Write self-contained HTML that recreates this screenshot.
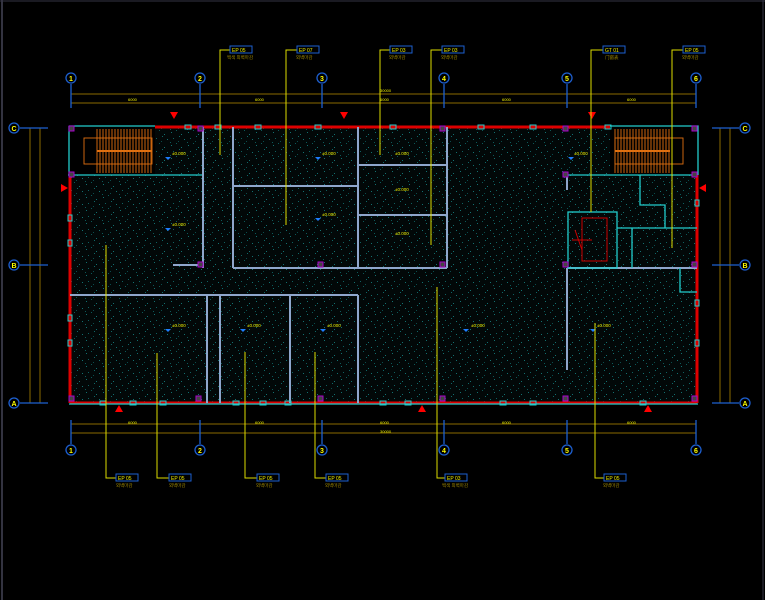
<!DOCTYPE html>
<html><head><meta charset="utf-8"><style>
html,body{margin:0;padding:0;background:#000;}
svg{display:block;}
text{font-family:"Liberation Sans","Noto Sans CJK KR",sans-serif;}
</style></head><body>
<svg width="765" height="600" viewBox="0 0 765 600" xmlns="http://www.w3.org/2000/svg">
<defs>
<pattern id="sp" width="17" height="13" patternUnits="userSpaceOnUse">
<rect width="17" height="13" fill="#020808"/>
<rect x="1" y="2" width="1" height="1" fill="#137070"/><rect x="6" y="0" width="1" height="1" fill="#0d5858"/>
<rect x="11" y="4" width="1" height="1" fill="#137070"/><rect x="3" y="8" width="1" height="1" fill="#0f6060"/>
<rect x="14" y="9" width="1" height="1" fill="#137070"/><rect x="8" y="11" width="1" height="1" fill="#0b4c4c"/>
<rect x="9" y="6" width="1" height="1" fill="#106666"/><rect x="0" y="12" width="1" height="1" fill="#0d5858"/>
</pattern>
</defs>
<rect width="765" height="600" fill="#000"/>
<line x1="2" y1="0" x2="2" y2="600" stroke="#445" stroke-width="1.5"/>
<line x1="0" y1="1" x2="765" y2="1" stroke="#334" stroke-width="1"/>
<line x1="763" y1="0" x2="763" y2="600" stroke="#334"/>

<path d="M70 175 H155 V127 H610 V175 H697 V403 H70 Z" fill="url(#sp)"/>

<g stroke="#8a6a00" stroke-width="1" fill="none">
<line x1="71" y1="94" x2="696" y2="94"/><line x1="71" y1="103" x2="696" y2="103"/>
<line x1="71" y1="424" x2="696" y2="424"/><line x1="71" y1="433" x2="696" y2="433"/>
<line x1="30" y1="128" x2="30" y2="403"/><line x1="40" y1="128" x2="40" y2="403"/>
<line x1="720" y1="128" x2="720" y2="403"/><line x1="730" y1="128" x2="730" y2="403"/>
</g>
<g fill="#ee0" font-size="4">
<text x="128" y="101">6000</text><text x="255" y="101">6000</text><text x="380" y="92">30000</text><text x="380" y="101">6000</text><text x="502" y="101">6000</text><text x="627" y="101">6000</text>
<text x="128" y="424">6000</text><text x="255" y="424">6000</text><text x="380" y="433">30000</text><text x="380" y="424">6000</text><text x="502" y="424">6000</text><text x="627" y="424">6000</text>
</g>
<g stroke="#1d5fd0" stroke-width="1.3" fill="#000">
<line x1="71" y1="84" x2="71" y2="108"/><line x1="200" y1="84" x2="200" y2="108"/><line x1="322" y1="84" x2="322" y2="108"/><line x1="444" y1="84" x2="444" y2="108"/><line x1="567" y1="84" x2="567" y2="108"/><line x1="696" y1="84" x2="696" y2="108"/>
<line x1="71" y1="420" x2="71" y2="444"/><line x1="200" y1="420" x2="200" y2="444"/><line x1="322" y1="420" x2="322" y2="444"/><line x1="444" y1="420" x2="444" y2="444"/><line x1="567" y1="420" x2="567" y2="444"/><line x1="696" y1="420" x2="696" y2="444"/>
<line x1="20" y1="128" x2="48" y2="128"/><line x1="20" y1="265" x2="48" y2="265"/><line x1="20" y1="403" x2="48" y2="403"/>
<line x1="712" y1="128" x2="739" y2="128"/><line x1="712" y1="265" x2="739" y2="265"/><line x1="712" y1="403" x2="739" y2="403"/>
<circle cx="71" cy="78" r="5"/><circle cx="200" cy="78" r="5"/><circle cx="322" cy="78" r="5"/><circle cx="444" cy="78" r="5"/><circle cx="567" cy="78" r="5"/><circle cx="696" cy="78" r="5"/>
<circle cx="71" cy="450" r="5"/><circle cx="200" cy="450" r="5"/><circle cx="322" cy="450" r="5"/><circle cx="444" cy="450" r="5"/><circle cx="567" cy="450" r="5"/><circle cx="696" cy="450" r="5"/>
<circle cx="14" cy="128" r="5"/><circle cx="14" cy="265" r="5"/><circle cx="14" cy="403" r="5"/>
<circle cx="745" cy="128" r="5"/><circle cx="745" cy="265" r="5"/><circle cx="745" cy="403" r="5"/>
</g>
<g fill="#ff0" font-size="7" font-weight="bold" text-anchor="middle">
<text x="71" y="81">1</text><text x="200" y="81">2</text><text x="322" y="81">3</text><text x="444" y="81">4</text><text x="567" y="81">5</text><text x="696" y="81">6</text>
<text x="71" y="453">1</text><text x="200" y="453">2</text><text x="322" y="453">3</text><text x="444" y="453">4</text><text x="567" y="453">5</text><text x="696" y="453">6</text>
<text x="14" y="131">C</text><text x="14" y="268">B</text><text x="14" y="406">A</text>
<text x="745" y="131">C</text><text x="745" y="268">B</text><text x="745" y="406">A</text>
</g>

<g fill="none">
<path d="M155 127 H610" stroke="#d00" stroke-width="3"/>
<path d="M70 403 H697" stroke="#d00" stroke-width="3"/>
<path d="M70 175 V403" stroke="#d00" stroke-width="3"/>
<path d="M697 175 V403" stroke="#d00" stroke-width="3"/>
<path d="M69 126 H155 M69 126 V175 M610 126 H698 V175 M69 404 H698" stroke="#2cc" stroke-width="1.3"/>
<path d="M68 175 H202 M567 175 H697" stroke="#2cc" stroke-width="1.3"/>
</g>
<g stroke="#e07010" stroke-width="0.9" fill="none">
<rect x="84" y="138" width="68" height="26"/>
<path d="M97 129 V173 M100 129 V173 M103 129 V173 M106 129 V173 M109 129 V173 M112 129 V173 M115 129 V173 M118 129 V173 M121 129 V173 M124 129 V173 M127 129 V173 M130 129 V173 M133 129 V173 M136 129 V173 M139 129 V173 M142 129 V173 M145 129 V173 M148 129 V173 M151 129 V173"/>
<line x1="97" y1="151" x2="152" y2="151" stroke-width="2"/>
<rect x="615" y="138" width="68" height="26"/>
<path d="M615 129 V173 M618 129 V173 M621 129 V173 M624 129 V173 M627 129 V173 M630 129 V173 M633 129 V173 M636 129 V173 M639 129 V173 M642 129 V173 M645 129 V173 M648 129 V173 M651 129 V173 M654 129 V173 M657 129 V173 M660 129 V173 M663 129 V173 M666 129 V173 M669 129 V173"/>
<line x1="615" y1="151" x2="670" y2="151" stroke-width="2"/>
</g>
<g stroke="#8fa6cc" stroke-width="2" fill="none">
<path d="M203 127 V268 M173 265 H203"/>
<path d="M233 127 V268 M233 186 H358 M233 268 H358 M358 127 V268 M358 165 H447 M358 215 H447 M358 268 H447 M447 127 V268"/>
<path d="M70 295 H358 M207 295 V403 M220 295 V403 M290 295 V403 M358 295 V403"/>
<path d="M567 268 V370 M567 268 H697"/>
<path d="M567 175 V190"/>
</g>
<g stroke="#2cc" stroke-width="1.3" fill="none">
<rect x="568" y="212" width="49" height="56"/>
<path d="M617 228 H697 M640 175 V205 H665 V228 M632 228 V268 M680 268 V292 H697"/>
</g>
<g stroke="#c00" stroke-width="1" fill="none">
<rect x="582" y="218" width="25" height="43"/>
<path d="M572 240 H592 M575 230 L582 250"/>
</g>
<g fill="#444" stroke="#a0c" stroke-width="1">
<rect x="69" y="126" width="5" height="5"/><rect x="69" y="172" width="5" height="5"/><rect x="198" y="126" width="5" height="5"/><rect x="198" y="262" width="5" height="5"/>
<rect x="318" y="262" width="5" height="5"/><rect x="440" y="126" width="5" height="5"/><rect x="440" y="262" width="5" height="5"/>
<rect x="563" y="126" width="5" height="5"/><rect x="563" y="172" width="5" height="5"/><rect x="563" y="262" width="5" height="5"/>
<rect x="692" y="126" width="5" height="5"/><rect x="692" y="172" width="5" height="5"/><rect x="692" y="262" width="5" height="5"/>
<rect x="69" y="396" width="5" height="5"/><rect x="196" y="396" width="5" height="5"/><rect x="318" y="396" width="5" height="5"/><rect x="440" y="396" width="5" height="5"/><rect x="563" y="396" width="5" height="5"/><rect x="692" y="396" width="5" height="5"/>
</g>
<g fill="none" stroke="#2cc" stroke-width="1">
<rect x="185" y="125" width="6" height="4"/><rect x="215" y="125" width="6" height="4"/><rect x="255" y="125" width="6" height="4"/><rect x="315" y="125" width="6" height="4"/><rect x="390" y="125" width="6" height="4"/><rect x="478" y="125" width="6" height="4"/><rect x="530" y="125" width="6" height="4"/><rect x="605" y="125" width="6" height="4"/>
<rect x="100" y="401" width="6" height="4"/><rect x="130" y="401" width="6" height="4"/><rect x="160" y="401" width="6" height="4"/><rect x="233" y="401" width="6" height="4"/><rect x="260" y="401" width="6" height="4"/><rect x="285" y="401" width="6" height="4"/><rect x="380" y="401" width="6" height="4"/><rect x="405" y="401" width="6" height="4"/><rect x="500" y="401" width="6" height="4"/><rect x="530" y="401" width="6" height="4"/><rect x="640" y="401" width="6" height="4"/>
<rect x="68" y="215" width="4" height="6"/><rect x="68" y="240" width="4" height="6"/><rect x="68" y="315" width="4" height="6"/><rect x="68" y="340" width="4" height="6"/>
<rect x="695" y="200" width="4" height="6"/><rect x="695" y="300" width="4" height="6"/><rect x="695" y="340" width="4" height="6"/>
</g>
<g fill="#f00">
<path d="M170 112 L178 112 L174 119 Z"/><path d="M340 112 L348 112 L344 119 Z"/><path d="M588 112 L596 112 L592 119 Z"/>
<path d="M115 412 L123 412 L119 405 Z"/><path d="M418 412 L426 412 L422 405 Z"/><path d="M644 412 L652 412 L648 405 Z"/>
<path d="M61 184 L61 192 L68 188 Z"/><path d="M706 184 L706 192 L699 188 Z"/>
</g>
<g font-size="4.5" fill="#ee0">
<text x="172" y="155">±0.000</text><text x="322" y="155">±0.000</text><text x="395" y="155">±0.000</text><text x="574" y="155">±0.000</text>
<text x="172" y="226">±0.000</text><text x="322" y="216">±0.000</text><text x="395" y="191">±0.000</text><text x="395" y="235">±0.000</text>
<text x="172" y="327">±0.000</text><text x="247" y="327">±0.000</text><text x="327" y="327">±0.000</text><text x="471" y="327">±0.000</text><text x="597" y="327">±0.000</text>
</g>
<g fill="#1e7fff">
<path d="M165 157 h6 l-3 3z"/><path d="M315 157 h6 l-3 3z"/><path d="M568 157 h6 l-3 3z"/><path d="M165 228 h6 l-3 3z"/><path d="M315 218 h6 l-3 3z"/><path d="M165 329 h6 l-3 3z"/><path d="M240 329 h6 l-3 3z"/><path d="M320 329 h6 l-3 3z"/><path d="M463 329 h6 l-3 3z"/><path d="M590 329 h6 l-3 3z"/>
</g>
<g stroke="#dd0" stroke-width="1" fill="none">
<path d="M230 50 H220 V155"/><path d="M297 50 H286 V225"/><path d="M390 50 H380 V155"/><path d="M442 50 H431 V245"/><path d="M603 50 H591 V212"/><path d="M683 50 H672 V248"/>
<path d="M116 478 H106 V245"/><path d="M169 478 H157 V353"/><path d="M257 478 H245 V352"/><path d="M326 478 H315 V352"/><path d="M445 478 H437 V287"/><path d="M604 478 H595 V323"/>
</g>
<g stroke="#1d5fd0" stroke-width="1" fill="none">
<rect x="230" y="46" width="22" height="7"/><rect x="297" y="46" width="22" height="7"/><rect x="390" y="46" width="22" height="7"/><rect x="442" y="46" width="22" height="7"/><rect x="603" y="46" width="22" height="7"/><rect x="683" y="46" width="22" height="7"/>
<rect x="116" y="474" width="22" height="7"/><rect x="169" y="474" width="22" height="7"/><rect x="257" y="474" width="22" height="7"/><rect x="326" y="474" width="22" height="7"/><rect x="445" y="474" width="22" height="7"/><rect x="604" y="474" width="22" height="7"/>
</g>
<g font-size="5" fill="#ee0">
<text x="232" y="52">EP 05</text><text x="299" y="52">EP 07</text><text x="392" y="52">EP 03</text><text x="444" y="52">EP 03</text><text x="605" y="52">GT 01</text><text x="685" y="52">EP 05</text>
<text x="118" y="480">EP 05</text><text x="171" y="480">EP 05</text><text x="259" y="480">EP 05</text><text x="328" y="480">EP 05</text><text x="447" y="480">EP 03</text><text x="606" y="480">EP 05</text>
</g>
<g font-size="4.5" fill="#a08a00">
<text x="227" y="59">백색 외벽마감</text><text x="296" y="59">외벽마감</text><text x="389" y="59">외벽마감</text><text x="441" y="59">외벽마감</text><text x="605" y="59">门窗表</text><text x="682" y="59">외벽마감</text>
<text x="116" y="487">외벽마감</text><text x="169" y="487">외벽마감</text><text x="256" y="487">외벽마감</text><text x="325" y="487">외벽마감</text><text x="442" y="487">백색 외벽마감</text><text x="603" y="487">외벽마감</text>
</g>
</svg>
</body></html>
